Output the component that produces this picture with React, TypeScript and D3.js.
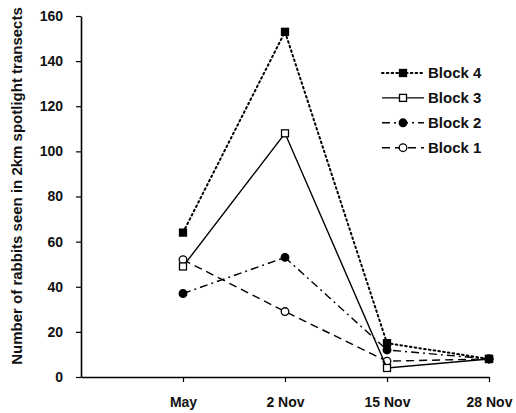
import React, { useEffect, useRef } from 'react';
import * as d3 from 'd3';

const categories = ['May', '2 Nov', '15 Nov', '28 Nov'];
const block4 = [64, 153, 15, 8];
const block3 = [49, 108, 4, 8];
const block2 = [37, 53, 12, 8];
const block1 = [52, 29, 7, 8];
const yTicks = [0, 20, 40, 60, 80, 100, 120, 140, 160];

const series = [
  { name: 'Block 4', values: block4, dash: '1.6,3.2', marker: 'square', fill: '#000' },
  { name: 'Block 3', values: block3, dash: null, marker: 'square', fill: '#fff' },
  { name: 'Block 2', values: block2, dash: '8,4,2,4', marker: 'circle', fill: '#000' },
  { name: 'Block 1', values: block1, dash: '8,5', marker: 'circle', fill: '#fff' },
];

export default function App() {
  const ref = useRef<SVGSVGElement>(null);

  useEffect(() => {
    if (!ref.current) return;
    const svg = d3.select(ref.current);
    svg.selectAll('*').remove();

    const font = 'Liberation Sans, Arial, sans-serif';
    const x = d3.scaleLinear().domain([0, 4]).range([81, 489]);
    const y = d3.scaleLinear().domain([0, 160]).range([377, 16]);

    // y axis
    const yAxis = svg
      .append('g')
      .attr('transform', 'translate(81,0)')
      .call(d3.axisLeft(y).tickValues(yTicks).tickSize(5).tickSizeOuter(0).tickPadding(13));
    yAxis.select('.domain').attr('stroke-width', 1.6);
    yAxis.selectAll('line').attr('stroke-width', 1.2);
    yAxis
      .selectAll('text')
      .attr('font-family', font)
      .attr('font-size', 14)
      .attr('font-weight', 'bold')
      .attr('fill', '#111');

    // x axis
    const xAxis = svg
      .append('g')
      .attr('transform', 'translate(0,377)')
      .call(
        d3
          .axisBottom(x)
          .tickValues([1, 2, 3, 4])
          .tickFormat((d) => categories[(d as number) - 1])
          .tickSize(5)
          .tickSizeOuter(0)
          .tickPadding(15)
      );
    xAxis.select('.domain').attr('stroke-width', 1.6);
    xAxis.selectAll('line').attr('stroke-width', 1.2);
    xAxis
      .selectAll('text')
      .attr('font-family', font)
      .attr('font-size', 14)
      .attr('font-weight', 'bold')
      .attr('fill', '#111');

    // y title
    svg
      .append('text')
      .attr('transform', 'translate(22,186) rotate(-90)')
      .attr('text-anchor', 'middle')
      .attr('font-family', font)
      .attr('font-size', 15)
      .attr('font-weight', 'bold')
      .attr('fill', '#111')
      .text('Number of rabbits seen in 2km spotlight transects');

    const line = d3
      .line<number>()
      .x((d, i) => x(i + 1))
      .y((d) => y(d));

    const drawMarker = (g: any, cx: number, cy: number, s: any) => {
      if (s.marker === 'square') {
        g.append('rect')
          .attr('x', cx - 3.5)
          .attr('y', cy - 3.5)
          .attr('width', 7)
          .attr('height', 7)
          .attr('fill', s.fill)
          .attr('stroke', '#000')
          .attr('stroke-width', 1.3);
      } else {
        g.append('circle')
          .attr('cx', cx)
          .attr('cy', cy)
          .attr('r', 3.8)
          .attr('fill', s.fill)
          .attr('stroke', '#000')
          .attr('stroke-width', 1.3);
      }
    };

    series
      .slice()
      .reverse()
      .forEach((s) => {
        const g = svg.append('g');
        g.append('path')
          .datum(s.values)
          .attr('d', line)
          .attr('fill', 'none')
          .attr('stroke', '#000')
          .attr('stroke-width', s.dash === '1.6,3.2' ? 2 : 1.4)
          .attr('stroke-dasharray', s.dash)
          .attr('stroke-linecap', s.dash === '1.6,3.2' ? 'round' : 'butt');
        s.values.forEach((v, i) => drawMarker(g, x(i + 1), y(v), s));
      });

    // legend
    const legend = svg.append('g').attr('transform', 'translate(382,73)');
    series.forEach((s, i) => {
      const row = legend.append('g').attr('transform', `translate(0,${i * 24.9})`);
      row
        .append('line')
        .attr('x1', 0)
        .attr('x2', 42)
        .attr('y1', 0)
        .attr('y2', 0)
        .attr('stroke', '#000')
        .attr('stroke-width', s.dash === '1.6,3.2' ? 2 : 1.4)
        .attr('stroke-dasharray', s.dash)
        .attr('stroke-linecap', s.dash === '1.6,3.2' ? 'round' : 'butt');
      drawMarker(row, 21, 0, s);
      row
        .append('text')
        .attr('x', 46)
        .attr('y', 5)
        .attr('font-family', font)
        .attr('font-size', 15)
        .attr('font-weight', 'bold')
        .attr('fill', '#111')
        .text(s.name);
    });
  }, []);

  return (
    <svg
      ref={ref}
      width={516}
      height={413}
      style={{ position: 'absolute', left: 0, top: 0, background: '#fff' }}
    />
  );
}
